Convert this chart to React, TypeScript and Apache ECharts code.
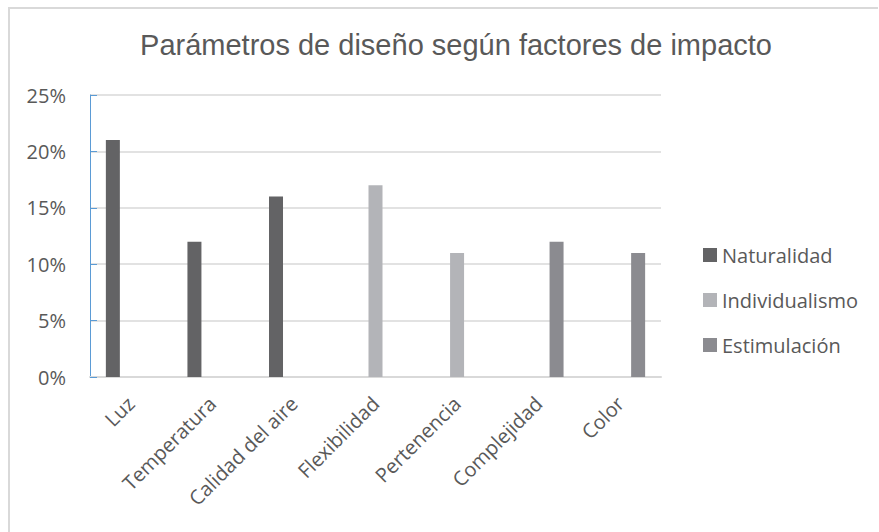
import React, { useEffect, useRef } from "react";
import * as echarts from "echarts";

const TITLE = "Parámetros de diseño según factores de impacto";
const categories = ["Luz", "Temperatura", "Calidad del aire", "Flexibilidad", "Pertenencia", "Complejidad", "Color"];
const naturalidad = [21, 12, 16, null, null, null, null];
const individualismo = [null, null, null, 17, 11, null, null];
const estimulacion = [null, null, null, null, null, 12, 11];
const seriesNames = ["Naturalidad", "Individualismo", "Estimulación"];
const seriesColors = ["#636365", "#b3b4b8", "#8b8b90"];

export default function App() {
  const ref = useRef<HTMLDivElement>(null);
  useEffect(() => {
    if (!ref.current) return;
    const chart = echarts.init(ref.current, null, { renderer: "svg" });
    const font = "'Open Sans', sans-serif";
    const values = [naturalidad, individualismo, estimulacion];
    chart.setOption({
      animation: false,
      backgroundColor: "#ffffff",
      title: {
        text: TITLE,
        left: 451,
        textAlign: "center",
        top: 25,
        textStyle: { fontFamily: "'Liberation Sans', Arial, sans-serif", fontSize: 29, fontWeight: "normal", color: "#595959" },
      },
      graphic: [
        { type: "line", shape: { x1: 8, y1: 8, x2: 878, y2: 8 }, style: { stroke: "#d9d9d9", lineWidth: 2 } },
        { type: "line", shape: { x1: 9, y1: 8, x2: 9, y2: 532 }, style: { stroke: "#d9d9d9", lineWidth: 2 } },
      ],
      legend: {
        orient: "vertical",
        left: 698,
        top: 240,
        itemWidth: 14,
        itemHeight: 14,
        itemGap: 25,
        icon: "rect",
        textStyle: { fontFamily: font, fontSize: 20, color: "#595959" },
        data: seriesNames,
      },
      grid: { left: 90, top: 95, right: 218, bottom: 155, containLabel: false },
      xAxis: {
        type: "category",
        data: categories,
        axisLine: { lineStyle: { color: "#d9d9d9", width: 2 } },
        axisTick: { show: false },
        axisLabel: { rotate: 45, interval: 0, margin: 23, fontFamily: font, fontSize: 20, color: "#595959" },
      },
      yAxis: {
        type: "value",
        min: 0,
        max: 25,
        interval: 5,
        axisLine: { show: true, lineStyle: { color: "#5b9bd5", width: 1 } },
        axisTick: { show: true, inside: true, length: 7, lineStyle: { color: "#5b9bd5" } },
        splitLine: { lineStyle: { color: "#d9d9d9", width: 1.5 } },
        axisLabel: { formatter: "{value}%", margin: 24, fontFamily: font, fontSize: 20, color: "#595959" },
      },
      series: seriesNames.map((name, i) => ({
        name,
        type: "bar",
        data: values[i],
        barWidth: 14,
        barGap: "28%",
        itemStyle: { color: seriesColors[i] },
      })),
    });
    return () => chart.dispose();
  }, []);
  return <div ref={ref} style={{ position: "fixed", left: 0, top: 0, width: 879, height: 532 }} />;
}
